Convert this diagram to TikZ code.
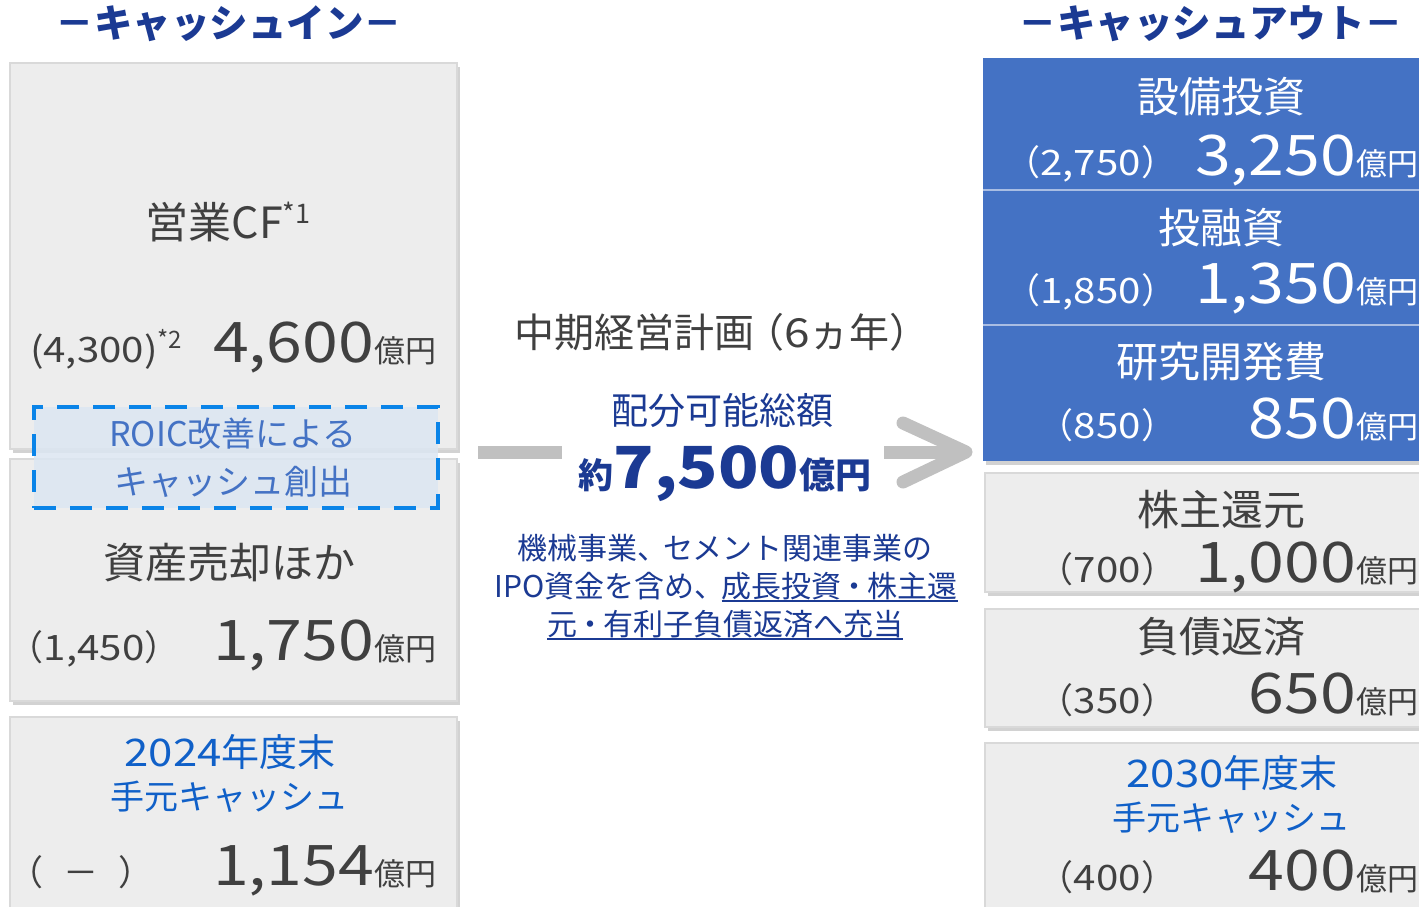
\documentclass[tikz,border=0pt]{standalone}
\usepackage{fontspec}
\setmainfont{Noto Sans CJK JP}
\newfontfamily\numfont[FakeStretch=1.15]{Noto Sans CJK JP}
\usetikzlibrary{shadows}
\definecolor{boxgray}{HTML}{EDEDED}
\definecolor{boxedge}{HTML}{D9D9D9}
\definecolor{txtgray}{HTML}{404040}
\definecolor{navy}{HTML}{1B3A93}
\definecolor{bblue}{HTML}{4472C4}
\definecolor{cashblue}{HTML}{1060C8}
\definecolor{dashblue}{HTML}{0A84E8}
\definecolor{roicfill}{HTML}{DCE6F2}
\definecolor{arrowgray}{HTML}{C0C0C0}
\definecolor{divline}{HTML}{A9BDE3}
\newcommand\fs[1]{\fontsize{#1}{#1}\selectfont}
\newcommand\myul[1]{\setbox0\hbox{#1}\rlap{\rule[-4pt]{\wd0}{1.5pt}}\box0}
\newcommand\pn[1]{{\fs{35}（{\numfont #1}）}}
\newcommand\bignum[2]{{\numfont\fs{56}#1}{\fs{31}#2}}
\begin{document}
\begin{tikzpicture}[x=1pt,y=-1pt,
  graybox/.style={draw=boxedge, line width=1.5pt, fill=boxgray, inner sep=0pt, anchor=north west,
    drop shadow={shadow xshift=3pt, shadow yshift=-4pt, opacity=0.35}},
  lbl/.style={inner sep=0pt, outer sep=0pt},
  gtxt/.style={lbl, text=txtgray},
  wtxt/.style={lbl, text=white},
  navytxt/.style={lbl, text=navy},
  bar/.style={draw=arrowgray, line width=13pt}]
\useasboundingbox[fill=white] (0,0) rectangle (1419,906);

% titles
\node[navytxt, font=\fs{38.5}\bfseries] (tin) at (229,24) {－キャッシュイン－};
\node[navytxt, font=\fs{38.5}\bfseries] (tout) at (1211,24) {－キャッシュアウト－};

% left boxes
\node[graybox, minimum width=447pt, minimum height=386pt] (opcf) at (9,62) {};
\node[graybox, minimum width=447pt, minimum height=242pt] (asset) at (9,458) {};
\node[graybox, minimum width=447pt, minimum height=220pt] (cash24) at (9,716) {};
\node[draw=dashblue, line width=4pt, dash pattern=on 22pt off 14pt, fill=roicfill, fill opacity=0.85,
  anchor=north west, minimum width=404pt, minimum height=101pt, inner sep=0pt] (roic) at (32,405) {};

\node[gtxt, font=\fs{43}] (cft) at (228,222) {営業CF\raisebox{15pt}{\fs{27}*1}};
\node[gtxt, anchor=base west] (cfp) at (30,362) {{\numfont\fs{35}(4,300)}\raisebox{14pt}{\fs{24}*2}};
\node[gtxt, anchor=base east] (cfv) at (436,362) {\bignum{4,600}{億円}};

\node[lbl, text=bblue, font=\fs{34}] (roic1) at (233,434) {ROIC改善による};
\node[lbl, text=bblue, font=\fs{34}] (roic2) at (233,482) {キャッシュ創出};

\node[gtxt, font=\fs{42}] (ast) at (229,563) {資産売却ほか};
\node[gtxt, anchor=base west] (asp) at (9,660) {\pn{1,450}};
\node[gtxt, anchor=base east] (asv) at (436,660) {\bignum{1,750}{億円}};

\node[lbl, text=cashblue, font=\fs{38}] (c24a) at (230,752) {{\numfont 2024}年度末};
\node[lbl, text=cashblue, font=\fs{34}] (c24b) at (229,797) {手元キャッシュ};
\node[gtxt, anchor=base west, font=\fs{35}] (c24p) at (9,885) {（\hspace{20pt}－\hspace{20pt}）};
\node[gtxt, anchor=base east] (c24v) at (436,885) {\bignum{1,154}{億円}};

% center
\node[gtxt, font=\fs{40}] (plan) at (722,332) {中期経営計画\kern-10pt（{\numfont 6}ヵ年）};
\node[navytxt, font=\fs{37}] (alloc) at (722,411) {配分可能総額};
\node[navytxt, anchor=base, font=\bfseries] (total) at (725,488) {{\fs{35}約}{\numfont\fs{58}7,500}{\fs{36}億円}};
\node[navytxt, font=\fs{30}] (n1) at (725,548) {機械事業、\kern-4pt セメント関連事業の};
\node[navytxt, font=\fs{30}] (n2) at (726,587) {IPO資金を含め、\kern-3pt\myul{成長投資\kern-2pt・\kern-2pt株主還}};
\node[navytxt, font=\fs{30}] (n3) at (725,625) {\myul{元\kern-2pt・\kern-2pt有利子負債返済へ充当}};

\coordinate (la) at (478,452);
\coordinate (lb) at (562,452);
\coordinate (ra) at (884,452);
\coordinate (rb) at (960,452);
\coordinate (c1) at (903,423);
\coordinate (ctip) at (966,452);
\coordinate (c2) at (903,482);
\draw[bar] (la) -- (lb);
\draw[bar] (ra) -- (rb);
\draw[bar, line cap=round, line join=round] (c1) -- (ctip) -- (c2);

% right blue block
\node[fill=bblue, anchor=north west, minimum width=440pt, minimum height=403pt, inner sep=0pt,
  drop shadow={shadow xshift=3pt, shadow yshift=-4pt, opacity=0.35}] (outblk) at (983,58) {};
\coordinate (d1) at (0,190);
\coordinate (d2) at (0,325);
\draw[divline, line width=2pt] (outblk.west |- d1) -- (outblk.east |- d1);
\draw[divline, line width=2pt] (outblk.west |- d2) -- (outblk.east |- d2);

\node[wtxt, font=\fs{42}] (capt) at (1221,97) {設備投資};
\node[wtxt, anchor=base east] (capp) at (1176,175) {\pn{2,750}};
\node[wtxt, anchor=base east] (capv) at (1418,175) {\bignum{3,250}{億円}};

\node[wtxt, font=\fs{42}] (invt) at (1221,228) {投融資};
\node[wtxt, anchor=base east] (invp) at (1176,303) {\pn{1,850}};
\node[wtxt, anchor=base east] (invv) at (1418,303) {\bignum{1,350}{億円}};

\node[wtxt, font=\fs{42}] (rdt) at (1221,362) {研究開発費};
\node[wtxt, anchor=base east] (rdp) at (1176,438) {\pn{850}};
\node[wtxt, anchor=base east] (rdv) at (1418,438) {\bignum{850}{億円}};

% right gray boxes
\node[graybox, minimum width=440pt, minimum height=119pt] (shb) at (984,472) {};
\node[graybox, minimum width=440pt, minimum height=118pt] (debtb) at (984,608) {};
\node[graybox, minimum width=440pt, minimum height=200pt] (c30b) at (984,742) {};

\node[gtxt, font=\fs{42}] (sht) at (1221,510) {株主還元};
\node[gtxt, anchor=base east] (shp) at (1176,582) {\pn{700}};
\node[gtxt, anchor=base east] (shv) at (1418,582) {\bignum{1,000}{億円}};

\node[gtxt, font=\fs{42}] (debtt) at (1221,637) {負債返済};
\node[gtxt, anchor=base east] (debtp) at (1176,713) {\pn{350}};
\node[gtxt, anchor=base east] (debtv) at (1418,713) {\bignum{650}{億円}};

\node[lbl, text=cashblue, font=\fs{38}] (c30a) at (1232,773) {{\numfont 2030}年度末};
\node[lbl, text=cashblue, font=\fs{34}] (c30t) at (1231,818) {手元キャッシュ};
\node[gtxt, anchor=base east] (c30p) at (1176,890) {\pn{400}};
\node[gtxt, anchor=base east] (c30v) at (1418,890) {\bignum{400}{億円}};
\end{tikzpicture}
\end{document}
